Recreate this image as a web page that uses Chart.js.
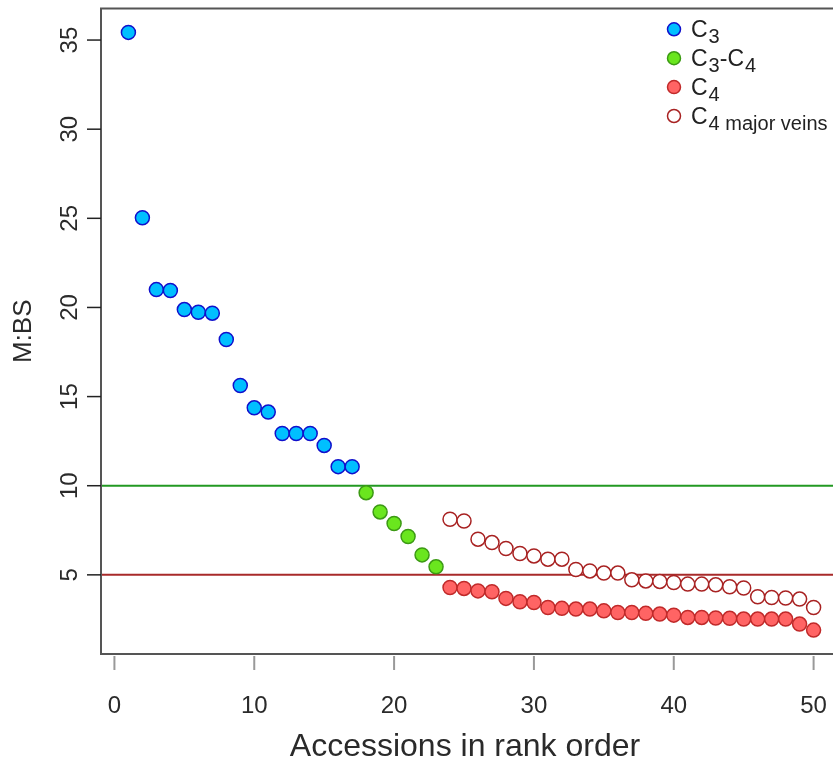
<!DOCTYPE html>
<html>
<head>
<meta charset="utf-8">
<title>M:BS by accession rank</title>
<script src="https://cdn.jsdelivr.net/npm/chart.js@4/dist/chart.umd.min.js"></script>
<style>
  html, body { margin: 0; padding: 0; background: #fff; overflow: hidden; }
  #wrap { position: absolute; left: 0; top: 0; width: 860px; height: 771px; }
</style>
</head>
<body>
<div id="wrap"><canvas id="mbs" width="860" height="771"></canvas></div>
<script>
// ranks and M:BS ratios
const c3Rank  = [1, 2, 3, 4, 5, 6, 7, 8, 9, 10, 11, 12, 13, 14, 15, 16, 17];
const c3Ratio = [35.43, 25.03, 21.0, 20.95, 19.88, 19.73, 19.68, 18.2, 15.62, 14.37, 14.13, 12.93, 12.93, 12.93, 12.26, 11.07, 11.07];

const c3c4Rank  = [18, 19, 20, 21, 22, 23];
const c3c4Ratio = [9.61, 8.53, 7.88, 7.15, 6.12, 5.45];

const c4Rank  = [24, 25, 26, 27, 28, 29, 30, 31, 32, 33, 34, 35, 36, 37, 38, 39, 40, 41, 42, 43, 44, 45, 46, 47, 48, 49, 50];
const c4Ratio = [4.29, 4.24, 4.10, 4.05, 3.68, 3.49, 3.45, 3.17, 3.12, 3.08, 3.08, 2.98, 2.89, 2.89, 2.84, 2.80, 2.74, 2.61, 2.61, 2.58, 2.56, 2.52, 2.52, 2.52, 2.52, 2.24, 1.90];
const veinRatio = [8.12, 8.02, 7.00, 6.81, 6.48, 6.20, 6.06, 5.88, 5.88, 5.30, 5.22, 5.10, 5.10, 4.72, 4.66, 4.63, 4.57, 4.48, 4.48, 4.44, 4.33, 4.26, 3.77, 3.73, 3.70, 3.64, 3.17];

const cutoffs = [10, 5];
const cutoffColors = ['#229922', '#a82a2a'];

const xTicks = [0, 10, 20, 30, 40, 50];
const yTicks = [5, 10, 15, 20, 25, 30, 35];
const xMin = -0.96, xMax = 51.96;
const yMin = 0.56, yMax = 36.77;

const FONT = '"Liberation Sans", Arial, sans-serif';

function pts(xs, ys) {
  return xs.map(function (x, i) { return { x: x, y: ys[i] }; });
}

const groups = [
  { label: [['C', 0], ['3', 1]], fill: '#00bfff', edge: '#1010cc', data: pts(c3Rank, c3Ratio) },
  { label: [['C', 0], ['3', 1], ['-C', 0], ['4', 1]], fill: '#6ae61e', edge: '#3c9a14', data: pts(c3c4Rank, c3c4Ratio) },
  { label: [['C', 0], ['4', 1]], fill: '#ff6464', edge: '#c02a2a', data: pts(c4Rank, c4Ratio) },
  { label: [['C', 0], ['4 major veins', 1]], fill: '#ffffff', edge: '#a82222', data: pts(c4Rank, veinRatio) }
];

const datasets = groups.map(function (g) {
  return {
    type: 'scatter',
    data: g.data,
    backgroundColor: g.fill,
    borderColor: g.edge,
    borderWidth: 1.5,
    pointRadius: 7,
    order: 0
  };
});
cutoffs.forEach(function (v, i) {
  datasets.push({
    type: 'line',
    data: [{ x: xMin, y: v }, { x: xMax, y: v }],
    borderColor: cutoffColors[i],
    borderWidth: 2,
    pointRadius: 0,
    order: 1
  });
});

function richText(ctx, x, y, parts, big, small) {
  parts.forEach(function (p) {
    ctx.font = (p[1] ? small : big) + 'px ' + FONT;
    ctx.fillText(p[0], x, p[1] ? y + 6 : y);
    x += ctx.measureText(p[0]).width + (p[1] ? 0 : 1);
  });
}

const rFrame = {
  id: 'rFrame',
  afterDatasetsDraw: function (chart) {
    const ctx = chart.ctx, a = chart.chartArea;
    const xs = chart.scales.x, ys = chart.scales.y;
    ctx.save();

    // box
    ctx.strokeStyle = '#555';
    ctx.lineWidth = 2;
    ctx.strokeRect(a.left, a.top, a.right - a.left, a.bottom - a.top);

    // y ticks and labels
    ctx.strokeStyle = '#222';
    ctx.lineWidth = 1.5;
    ctx.fillStyle = '#2a2a2a';
    ctx.font = '24px ' + FONT;
    ctx.textAlign = 'center';
    ctx.textBaseline = 'middle';
    yTicks.forEach(function (v) {
      const y = ys.getPixelForValue(v);
      ctx.beginPath();
      ctx.moveTo(a.left - 14, y);
      ctx.lineTo(a.left, y);
      ctx.stroke();
      ctx.save();
      ctx.translate(70, y);
      ctx.rotate(-Math.PI / 2);
      ctx.fillText(String(v), 0, 0);
      ctx.restore();
    });

    // x ticks and labels
    ctx.strokeStyle = '#999';
    ctx.lineWidth = 2;
    xTicks.forEach(function (v) {
      const x = xs.getPixelForValue(v);
      ctx.beginPath();
      ctx.moveTo(x, a.bottom + 2);
      ctx.lineTo(x, a.bottom + 16);
      ctx.stroke();
      ctx.fillText(String(v), x, 706);
    });

    // axis titles
    ctx.font = '32px ' + FONT;
    ctx.fillText('Accessions in rank order', (a.left + 841) / 2 - 6, 747);
    ctx.save();
    ctx.translate(24, (a.top + a.bottom) / 2);
    ctx.rotate(-Math.PI / 2);
    ctx.font = '26px ' + FONT;
    ctx.fillText('M:BS', 0, 0);
    ctx.restore();

    // legend
    ctx.textAlign = 'left';
    ctx.textBaseline = 'alphabetic';
    groups.forEach(function (g, i) {
      const cy = 29.3 + i * 28.9;
      ctx.beginPath();
      ctx.arc(674, cy, 6.5, 0, Math.PI * 2);
      ctx.fillStyle = g.fill;
      ctx.fill();
      ctx.strokeStyle = g.edge;
      ctx.lineWidth = 1.5;
      ctx.stroke();
      ctx.fillStyle = '#222';
      richText(ctx, 691, cy + 8, g.label, 23, 20);
    });
    ctx.restore();
  }
};

new Chart(document.getElementById('mbs'), {
  type: 'scatter',
  data: { datasets: datasets },
  options: {
    responsive: false,
    animation: false,
    layout: { padding: { top: 8, right: 19, left: 0, bottom: 0 } },
    plugins: { legend: { display: false }, tooltip: { enabled: false } },
    scales: {
      x: {
        type: 'linear', min: xMin, max: xMax,
        grid: { display: false }, border: { display: false }, ticks: { display: false },
        afterFit: function (s) { s.height = 117; }
      },
      y: {
        type: 'linear', min: yMin, max: yMax,
        grid: { display: false }, border: { display: false }, ticks: { display: false },
        afterFit: function (s) { s.width = 101; }
      }
    }
  },
  plugins: [rFrame]
});
</script>
</body>
</html>
